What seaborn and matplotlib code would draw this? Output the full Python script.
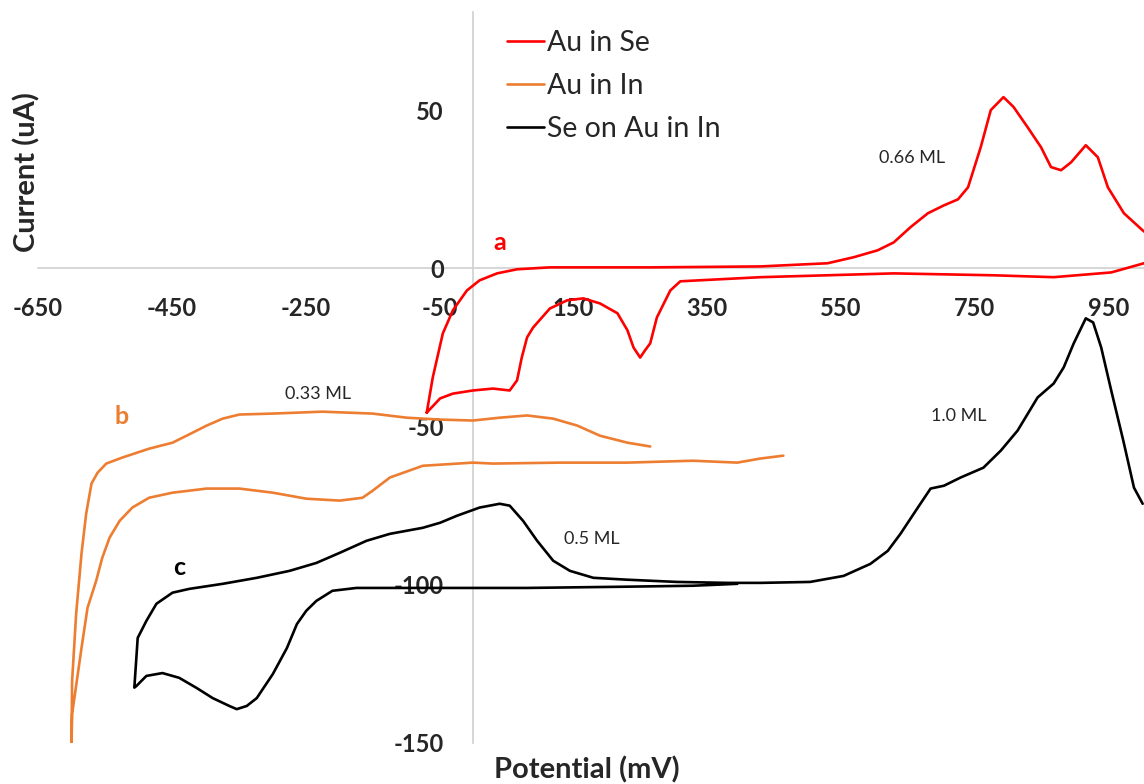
import pandas as pd
import matplotlib.pyplot as plt
import seaborn as sns

# -----------------------------
# Data (potential in mV, current in uA)
# -----------------------------
se_potential = [-69, -60, -45, -30, -9, 10, 36, 66, 115, 265, 430, 530, 569, 605,
                629, 654, 680, 704, 725, 740, 759, 774, 793, 808, 829, 849, 864,
                879, 894, 916, 934, 949, 973, 1001, 1040, 1003,
                954, 868, 778, 629, 430, 310, 295, 275, 265, 257, 250, 240, 231,
                216, 190, 165, 141, 115, 90, 81, 73, 66, 55, 30, 0, -30, -49, -69]
se_current = [-45.6, -34.5, -20.6, -13.3, -7.0, -3.8, -1.6, -0.3, 0.3, 0.3, 0.6,
              1.6, 3.5, 5.7, 8.2, 13.0, 17.4, 19.9, 21.8, 25.6, 38.3, 50.0, 54.1,
              51.0, 44.6, 38.3, 32.0, 31.0, 33.5, 38.9, 35.1, 25.6, 17.4, 12.0, 5.5,
              1.6,
              -1.3, -2.8, -2.2, -1.6, -2.8, -4.1, -7.0, -15.5, -23.7, -26.0, -28.2,
              -25.0, -19.6, -14.2, -11.1, -9.5, -10.1, -12.7, -18.7, -21.8, -28.2,
              -35.4, -38.6, -38.0, -38.6, -39.6, -41.1, -45.6]

in_potential = [464, 430, 395, 329, 231, 130, 30, 0, -75, -124, -150, -165, -199,
                -249, -299, -349, -398, -449, -484, -509, -528, -543, -554, -563,
                -576, -585, -599, -600,
                -599, -593, -585, -578, -570, -561, -548, -524, -484, -449, -428,
                -398, -374, -349, -299, -225, -150, -99, -49, 0, 40, 81, 120, 156,
                190, 231, 265]
in_current = [-59.2, -60.1, -61.4, -60.8, -61.4, -61.4, -61.7, -61.4, -62.4, -66.1,
              -70.3, -72.5, -73.4, -72.8, -70.9, -69.6, -69.6, -70.9, -72.5, -75.6,
              -79.8, -85.1, -91.5, -98.7, -107.3, -120.0, -140.8, -151.0,
              -130.4, -109.2, -90.2, -77.5, -68.0, -64.6, -61.7, -59.8, -57.0, -55.1,
              -52.9, -49.7, -47.5, -46.2, -45.9, -45.3, -45.9, -47.2, -47.8, -48.1,
              -47.2, -46.5, -47.5, -49.7, -52.9, -55.1, -56.3]

sein_potential = [395, 329, 231, 81, 0, -99, -174, -210, -234, -249, -263, -278,
                  -299, -323, -338, -353, -364, -389, -413, -439, -464, -488, -503,
                  -506,
                  -501, -488, -473, -449, -424, -374, -323, -274, -234, -199, -159,
                  -124, -75, -49, -24, 10, 40, 55, 75, 96, 120, 145, 180, 231, 305,
                  380, 430, 504, 554, 594, 620, 639, 665, 684, 704, 729, 763, 789,
                  814, 844, 868, 883, 898, 916, 927, 939, 954, 972, 988, 1001]
sein_current = [-99.7, -100.3, -100.6, -101.0, -101.0, -101.0, -101.0, -101.9,
                -105.1, -108.2, -112.4, -120.0, -128.2, -135.8, -138.3, -139.3,
                -138.3, -135.8, -132.6, -129.4, -127.9, -128.8, -132.0, -132.5,
                -116.8, -111.4, -106.0, -102.5, -101.3, -99.7, -97.8, -95.6, -93.1,
                -89.9, -86.1, -83.9, -82.0, -80.4, -78.2, -75.6, -74.4, -75.0, -79.8,
                -86.1, -92.4, -95.6, -97.8, -98.4, -99.1, -99.4, -99.4, -99.1, -97.2,
                -93.4, -89.3, -83.9, -75.6, -69.6, -68.7, -66.1, -63.0, -57.6, -51.3,
                -40.8, -36.4, -31.3, -23.7, -15.8, -17.1, -25.0, -38.6, -54.4, -69.3,
                -74.4]

series_names = ["Au in Se", "Au in In", "Se on Au in In"]
series_colors = ["#FF0000", "#ED7D31", "#000000"]

x_ticks = [-650, -450, -250, -50, 150, 350, 550, 750, 950]
y_ticks = [-150, -100, -50, 0, 50]

# -----------------------------
# Style
# -----------------------------
sns.set_theme(style="white")
plt.rcParams["font.family"] = ["Lato", "DejaVu Sans"]
plt.rcParams["axes.unicode_minus"] = False

fig = plt.figure(figsize=(11.44, 7.84), dpi=100)
ax = fig.add_axes([38 / 1144, 1 - 743 / 784, 1 - 38 / 1144, (743 - 12) / 784])

curves = [(se_potential, se_current), (in_potential, in_current),
          (sein_potential, sein_current)]
for (xs, ys), name, col in zip(curves, series_names, series_colors):
    df = pd.DataFrame({"Potential": xs, "Current": ys})
    sns.lineplot(data=df, x="Potential", y="Current", sort=False, estimator=None,
                 color=col, linewidth=1.9, label=name, ax=ax)

ax.set_xlim(-650, 1003)
ax.set_ylim(-150, 81)
ax.set_xticks(x_ticks)
ax.set_yticks(y_ticks)
ax.set_xlabel("")
ax.set_ylabel("")

# axes cross at the origin, Excel style
for side in ["top", "right"]:
    ax.spines[side].set_visible(False)
ax.spines["left"].set_position(("data", 0))
ax.spines["bottom"].set_position(("data", 0))
for side in ["left", "bottom"]:
    ax.spines[side].set_color("#d0d0d0")
    ax.spines[side].set_linewidth(1.2)
    ax.spines[side].set_zorder(0)
ax.tick_params(axis="x", length=0, pad=21, labelsize=17)
ax.tick_params(axis="y", length=0, pad=21, labelsize=17)
for lab in ax.get_xticklabels() + ax.get_yticklabels():
    lab.set_fontweight("bold")

# -----------------------------
# Annotations
# -----------------------------
ax.text(40, 8.2, "a", color="#FF0000", fontsize=18, fontweight="bold",
        ha="center", va="center")
ax.text(-525, -46.8, "b", color="#ED7D31", fontsize=18, fontweight="bold",
        ha="center", va="center")
ax.text(-439, -94.6, "c", color="#000000", fontsize=18, fontweight="bold",
        ha="center", va="center")
for xx, yy, txt in [(657, 35, "0.66 ML"), (-232, -39.6, "0.33 ML"),
                    (726, -46.8, "1.0 ML"), (178, -85.4, "0.5 ML")]:
    ax.text(xx, yy, txt, fontsize=13, color="#262626", ha="center", va="center")

fig.text(27 / 1144, 1 - 172 / 784, "Current (uA)", rotation=90, fontsize=21,
         fontweight="bold", ha="center", va="center")
fig.text(587 / 1144, 1 - 770 / 784, "Potential (mV)", fontsize=21,
         fontweight="bold", ha="center", va="center")

ax.legend(loc="upper left", bbox_to_anchor=(507 / 1144, 1 - 30 / 784),
          bbox_transform=fig.transFigure, frameon=False, fontsize=20.5,
          handlelength=1.3, handletextpad=0.1, labelspacing=0.6,
          borderpad=0, borderaxespad=0)

plt.savefig("out.png", dpi=100)
